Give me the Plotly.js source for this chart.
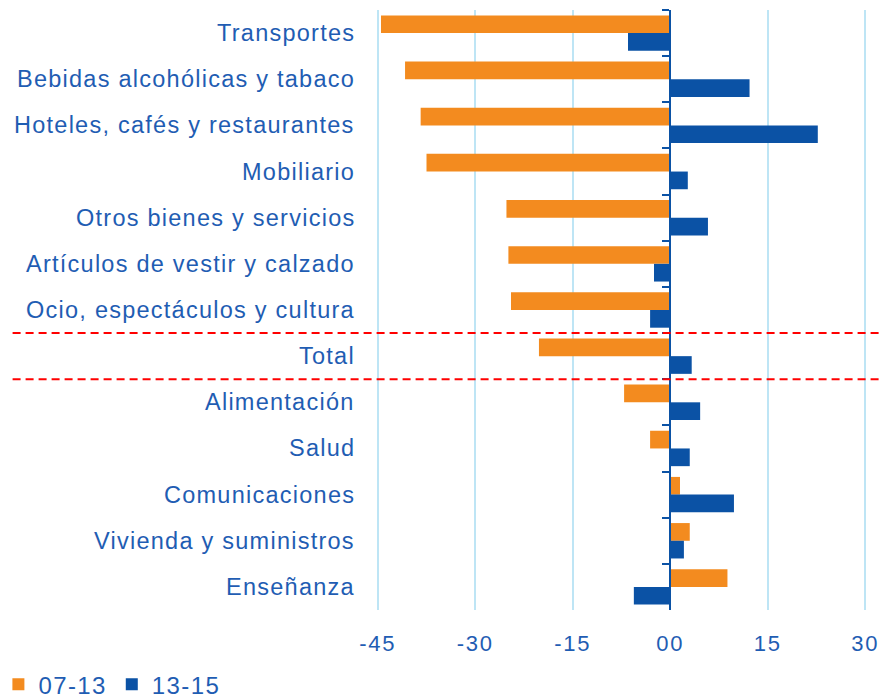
<!DOCTYPE html>
<html>
<head>
<meta charset="utf-8">
<script src="https://cdn.plot.ly/plotly-3.0.1.min.js"></script>
<style>
html,body{margin:0;padding:0;background:#fff;}
#chart{width:883px;height:699px;}
.xtick text { letter-spacing: 1.8px; }
.legendtext { letter-spacing: 1.4px; }
.annotation-text { letter-spacing: 1.25px; }
</style>
</head>
<body>
<div id="chart"></div>
<script>
const categories = [
  "Transportes",
  "Bebidas alcohólicas y tabaco",
  "Hoteles, cafés y restaurantes",
  "Mobiliario",
  "Otros bienes y servicios",
  "Artículos de vestir y calzado",
  "Ocio, espectáculos y cultura",
  "Total",
  "Alimentación",
  "Salud",
  "Comunicaciones",
  "Vivienda y suministros",
  "Enseñanza"
];
const s0713 = [-44.5, -40.8, -38.4, -37.5, -25.2, -24.9, -24.5, -20.2, -7.1, -3.1, 1.5, 3.0, 8.8];
const s1315 = [-6.5, 12.2, 22.7, 2.7, 5.8, -2.5, -3.1, 3.3, 4.6, 3.0, 9.8, 2.1, -5.6];
const seriesNames = ["07-13", "13-15"];
const xTickVals = [-45, -30, -15, 0, 15, 30];
const xTickText = ["-45", "-30", "-15", "00", "15", "30"];
const totalLabel = "Total";

const ORANGE = "#F38B1F";
const BLUE = "#0B52A5";
const TEXT = "#1F5DB3";
const FONT = "Liberation Sans, Arial, sans-serif";

const xr = [-46.5, 31.5];
const zeroPos = (0 - xr[0]) / (xr[1] - xr[0]);
const nCat = categories.length;
const yr = [nCat - 0.5, -0.5];

const traces = [
  {type: "bar", orientation: "h", name: seriesNames[0], y: categories, x: s0713,
   marker: {color: ORANGE}},
  {type: "bar", orientation: "h", name: seriesNames[1], y: categories, x: s1315,
   marker: {color: BLUE}}
];

const ti = categories.indexOf(totalLabel);
const shapes = [ti - 0.5, ti + 0.5].map(v => ({
  type: "line", xref: "paper", yref: "y",
  x0: -0.701, x1: 1.02, y0: v, y1: v,
  line: {color: "#FF0000", width: 2, dash: "8px,5px"}
}));

const annotations = categories.map(c => ({
  xref: "paper", yref: "y", x: -0.022, y: c, xanchor: "right", yanchor: "middle",
  text: c, showarrow: false, font: {family: FONT, size: 23.5, color: TEXT}
}));

const layout = {
  width: 883, height: 699,
  margin: {l: 368, r: 8, t: 10, b: 89, autoexpand: false},
  paper_bgcolor: "#fff", plot_bgcolor: "#fff",
  font: {family: FONT, size: 22, color: TEXT},
  barmode: "group", bargap: 0.233, bargroupgap: 0,
  showlegend: true,
  legend: {orientation: "h", x: -0.729, xanchor: "left", y: -0.087, yanchor: "top",
           font: {family: FONT, size: 24, color: TEXT}, traceorder: "normal",
           itemwidth: 30, tracegroupgap: 0},
  xaxis: {range: xr, tickvals: xTickVals, ticktext: xTickText,
          showgrid: true, gridcolor: "#BEE5F5", gridwidth: 2,
          zeroline: false, showline: false, ticks: "", automargin: false,
          ticklabelstandoff: 18, fixedrange: true},
  yaxis: {type: "category", categoryorder: "array", categoryarray: categories,
          range: yr, anchor: "free", position: zeroPos, side: "left",
          tickson: "boundaries", ticks: "outside", ticklen: 7, tickwidth: 2, tickcolor: BLUE,
          showline: true, linecolor: BLUE, linewidth: 2, automargin: false,
          showticklabels: false, showgrid: false, zeroline: false},
  shapes: shapes,
  annotations: annotations
};

Plotly.newPlot("chart", traces, layout, {displayModeBar: false, staticPlot: true});
</script>
</body>
</html>
